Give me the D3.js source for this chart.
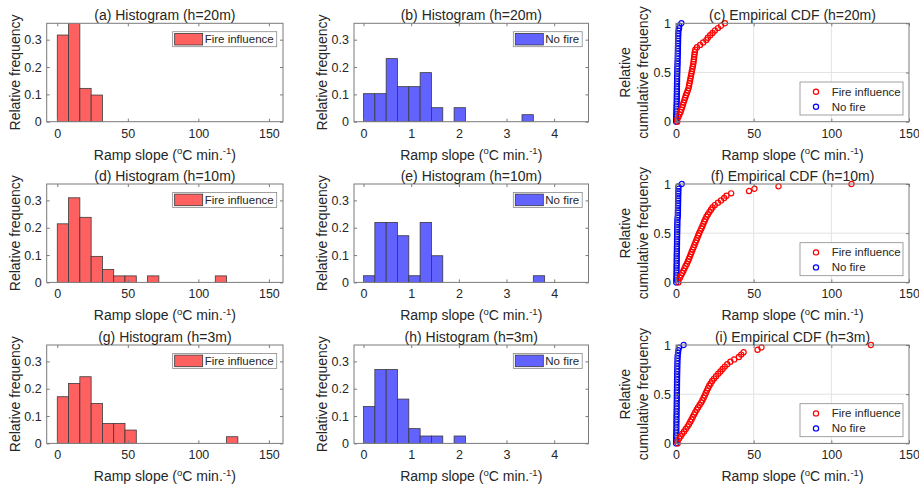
<!DOCTYPE html>
<html>
<head>
<meta charset="utf-8">
<script src="https://cdn.jsdelivr.net/npm/d3@7"></script>
<style>
  body { margin: 0; background: #fff; }
  text { font-family: "Liberation Sans", Arial, Helvetica, sans-serif; fill: #262626; }
</style>
</head>
<body>
<div id="chart"></div>
<script>
var fire20 = [0.8, 1.5, 2.2, 2.9, 3.4, 3.9, 4.4, 4.9, 5.4, 5.9, 6.4, 7.0, 7.6,
  8.1, 8.4, 8.7, 9.0, 9.3, 9.6, 9.9, 10.2, 10.5, 10.8, 11.1, 11.3, 11.5, 11.7, 11.9, 12.1, 12.4, 13.5, 15.5,
  17.5, 19.5, 20.5, 22, 23.5, 25, 27, 29, 31.5];
var fire10 = [1.5, 2.5, 3.3, 4.0, 4.8, 5.5, 6.2, 7.0, 7.7,
  8.3, 8.9, 9.5, 10.1, 10.7, 11.3, 11.9, 12.5, 13.1, 13.7, 14.3, 14.9, 15.6,
  16.3, 17.0, 17.6, 18.2, 18.9, 19.6, 20.5, 21.5, 22.5, 23.5,
  25, 27, 29, 31, 32.5, 35.5, 47, 50.5, 66, 113];
var fire3 = [1.0, 2.0, 3.0, 4.0, 5.2, 6.3, 7.4,
  8.3, 9.2, 10.0, 10.8, 11.6, 12.4, 13.3, 14.2, 15.2,
  16.2, 17.0, 17.8, 18.5, 19.2, 19.9, 20.6, 21.4, 22.3, 23.3,
  24.5, 25.8, 27.2, 28.6, 30, 31.4, 33, 35, 37.5, 40.5, 42, 43.5, 52.5, 55, 125.5];

var noFire20 = [0.05, 0.1, 0.15, 0.2, 0.28, 0.33, 0.39, 0.45,
  0.49, 0.51, 0.54, 0.57, 0.6, 0.63, 0.65, 0.68, 0.7,
  0.74, 0.79, 0.84, 0.88, 0.92, 0.98, 1.03, 1.08, 1.12, 1.16,
  1.2, 1.24, 1.28, 1.31, 1.35, 1.38, 1.41, 1.48, 1.6, 1.95, 2.08, 3.45];
var noFire10 = [0.15, 0.26, 0.29, 0.32, 0.35, 0.38, 0.41, 0.43, 0.45, 0.47,
  0.49, 0.52, 0.55, 0.58, 0.61, 0.64, 0.66, 0.68, 0.7,
  0.73, 0.76, 0.79, 0.83, 0.86, 0.89, 0.93, 1.05,
  1.2, 1.23, 1.26, 1.29, 1.32, 1.35, 1.38, 1.4, 1.42, 1.45, 1.5, 1.55, 1.62, 3.7];
var noFire3 = [0.04, 0.08, 0.12, 0.17, 0.21, 0.25, 0.27, 0.29, 0.31, 0.34, 0.37, 0.4, 0.42, 0.44, 0.46,
  0.49, 0.51, 0.53, 0.56, 0.59, 0.62, 0.64, 0.66, 0.68, 0.7,
  0.74, 0.78, 0.82, 0.86, 0.9, 0.93, 1.0, 1.1, 1.3, 1.5, 2.0, 4.9];

var fireBinWidth = 8, noFireBinWidth = 0.2375;
var fireXTicks = [0, 50, 100, 150], noFireXTicks = [0, 1, 2, 3, 4], cdfXTicks = [0, 50, 100, 150];
var histYTicks = [0, 0.1, 0.2, 0.3], cdfYTicks = [0, 0.5, 1];
var heights = ["20m", "10m", "3m"];
var letters = [["a", "b", "c"], ["d", "e", "f"], ["g", "h", "i"]];

var fireColor = "#ff6060", noFireColor = "#6262ff";

var rows = [
  { fire: fire20, noFire: noFire20 },
  { fire: fire10, noFire: noFire10 },
  { fire: fire3, noFire: noFire3 }
];

var W = 919, H = 489;
var colLeft = [46.7, 354, 676], colWidth = [236.3, 234.5, 233];
var rowTop = [23.3, 184, 345], plotH = 98.4;
var markerR = 2.6;

var svg = d3.select("#chart").append("svg")
  .attr("width", W)
  .attr("height", H);

var defs = svg.append("defs");

function rampLabel(t){
  t.append("tspan").text("Ramp slope (");
  t.append("tspan").attr("font-size", "9.5px").attr("dy", -5.5).text("o");
  t.append("tspan").attr("dy", 5.5).text("C min.");
  t.append("tspan").attr("font-size", "9.5px").attr("dy", -5.5).text("-1");
  t.append("tspan").attr("dy", 5.5).text(")");
}

function drawGrid(g, x, y, xticks, yticks, w){
  g.append("g").selectAll("line")
    .data(xticks.slice(1, -1)).enter().append("line")
    .attr("x1", function(d){ return x(d); }).attr("x2", function(d){ return x(d); })
    .attr("y1", 0).attr("y2", plotH)
    .attr("stroke", "#e3e3e3");
  g.append("g").selectAll("line")
    .data(yticks.slice(1, -1)).enter().append("line")
    .attr("y1", function(d){ return y(d); }).attr("y2", function(d){ return y(d); })
    .attr("x1", 0).attr("x2", w)
    .attr("stroke", "#e3e3e3");
}

function finishAxes(g, x, y, xticks, yticks, w){
  var fmt = function(d){ return String(d); };
  var axes = [
    g.append("g").attr("transform", "translate(0," + plotH + ")")
      .call(d3.axisBottom(x).tickValues(xticks).tickSize(-3).tickPadding(7).tickFormat(fmt)),
    g.append("g")
      .call(d3.axisTop(x).tickValues(xticks).tickSize(-3).tickFormat("")),
    g.append("g")
      .call(d3.axisLeft(y).tickValues(yticks).tickSize(-3).tickPadding(5).tickFormat(fmt)),
    g.append("g").attr("transform", "translate(" + w + ",0)")
      .call(d3.axisRight(y).tickValues(yticks).tickSize(-3).tickFormat(""))
  ];
  axes.forEach(function(a){
    a.select(".domain").remove();
    a.selectAll(".tick line").attr("stroke", "#7a7a7a");
    a.selectAll(".tick text").attr("font-size", "12.5px").attr("fill", "#262626")
      .style("font-family", '"Liberation Sans", Arial, sans-serif');
  });

  g.append("rect")
    .attr("width", w).attr("height", plotH)
    .attr("fill", "none").attr("stroke", "#7a7a7a").attr("stroke-width", 1);
}

function titleAndLabels(g, w, title, ylines, yOff){
  g.append("text")
    .attr("x", w / 2).attr("y", -3.5)
    .attr("text-anchor", "middle").attr("font-size", "14px")
    .text(title);

  g.append("text")
    .attr("x", w / 2).attr("y", plotH + 38)
    .attr("text-anchor", "middle").attr("font-size", "14px")
    .call(rampLabel);

  ylines.forEach(function(line, i){
    g.append("text")
      .attr("transform", "translate(" + yOff[i] + "," + plotH / 2 + ") rotate(-90)")
      .attr("text-anchor", "middle").attr("dy", "0.35em").attr("font-size", "14px")
      .text(line);
  });
}

function histogram(r, c, data, binWidth, domain, xticks, color, name){
  var w = colWidth[c];
  var g = svg.append("g").attr("transform", "translate(" + colLeft[c] + "," + rowTop[r] + ")");

  var x = d3.scaleLinear().domain(domain).range([0, w]);
  var y = d3.scaleLinear().domain([0, 0.36]).range([plotH, 0]);

  var edges = d3.range(1, 40).map(function(k){ return k * binWidth; });
  var bins = d3.bin()
    .domain([0, binWidth * 40])
    .thresholds(edges)(data)
    .filter(function(b){ return b.length > 0; });

  var clipId = "clip-" + r + "-" + c;
  defs.append("clipPath").attr("id", clipId)
    .append("rect").attr("width", w).attr("height", plotH);

  g.append("g").attr("clip-path", "url(#" + clipId + ")")
    .selectAll("rect").data(bins).enter().append("rect")
    .attr("x", function(b){ return x(b.x0); })
    .attr("width", function(b){ return x(b.x1) - x(b.x0); })
    .attr("y", function(b){ return y(b.length / data.length); })
    .attr("height", function(b){ return plotH - y(b.length / data.length); })
    .attr("fill", color)
    .attr("stroke", "#3a3a3a")
    .attr("stroke-width", 0.8);

  finishAxes(g, x, y, xticks, histYTicks, w);
  titleAndLabels(g, w, "(" + letters[r][c] + ") Histogram (h=" + heights[r] + ")",
    ["Relative frequency"], [-32]);

  // legend, top right
  var leg = g.append("g");
  var txt = leg.append("text").attr("font-size", "11.5px").text(name);
  var tl = txt.node().getComputedTextLength();
  var lw = 2 + 28 + 2 + tl + 3, lh = 15;
  var lx = w - 6.3 - lw, ly = 8.4;
  leg.insert("rect", "text")
    .attr("x", lx).attr("y", ly).attr("width", lw).attr("height", lh)
    .attr("fill", "#fff").attr("stroke", "#8a8a8a").attr("stroke-width", 0.8);
  leg.insert("rect", "text")
    .attr("x", lx + 2).attr("y", ly + 1.7).attr("width", 28).attr("height", 11.6)
    .attr("fill", color).attr("stroke", "#3a3a3a").attr("stroke-width", 0.8);
  txt.attr("x", lx + 32).attr("y", ly + lh / 2).attr("dy", "0.35em");
}

function ecdfPoints(data){
  var s = data.slice().sort(d3.ascending), n = s.length;
  var pts = [[s[0], 0]];
  s.forEach(function(v, i){ pts.push([v, (i + 1) / n]); });
  return pts;
}

function cdfPanel(r){
  var c = 2, w = colWidth[c];
  var g = svg.append("g").attr("transform", "translate(" + colLeft[c] + "," + rowTop[r] + ")");
  var x = d3.scaleLinear().domain([0, 150]).range([0, w]);
  var y = d3.scaleLinear().domain([0, 1]).range([plotH, 0]);

  drawGrid(g, x, y, cdfXTicks, cdfYTicks, w);

  var series = [
    { pts: ecdfPoints(rows[r].noFire), color: "#0000ff" },
    { pts: ecdfPoints(rows[r].fire), color: "#ff0000" }
  ];
  series.forEach(function(s){
    g.append("g").selectAll("circle").data(s.pts).enter().append("circle")
      .attr("cx", function(d){ return x(d[0]); })
      .attr("cy", function(d){ return y(d[1]); })
      .attr("r", markerR)
      .attr("fill", "none")
      .attr("stroke", s.color)
      .attr("stroke-width", 1.2);
  });

  finishAxes(g, x, y, cdfXTicks, cdfYTicks, w);
  titleAndLabels(g, w, "(" + letters[r][c] + ") Empirical CDF (h=" + heights[r] + ")",
    ["Relative", "cumulative frequency"], [-51, -33]);

  // legend, bottom right
  var lw = 103, lh = 33;
  var lx = w - 6 - lw, ly = plotH - 6.7 - lh;
  var leg = g.append("g").attr("transform", "translate(" + lx + "," + ly + ")");
  leg.append("rect").attr("width", lw).attr("height", lh)
    .attr("fill", "#fff").attr("stroke", "#8a8a8a").attr("stroke-width", 0.8);
  [["Fire influence", "#ff0000"], ["No fire", "#0000ff"]].forEach(function(e, i){
    var yy = 9.7 + i * 15;
    leg.append("circle").attr("cx", 16).attr("cy", yy).attr("r", markerR)
      .attr("fill", "none").attr("stroke", e[1]).attr("stroke-width", 1.2);
    leg.append("text").attr("x", 31.7).attr("y", yy).attr("dy", "0.35em")
      .attr("font-size", "11.5px").text(e[0]);
  });
}

rows.forEach(function(row, r){
  histogram(r, 0, row.fire, fireBinWidth, [-7.5, 160], fireXTicks, fireColor, "Fire influence");
  histogram(r, 1, row.noFire, noFireBinWidth, [-0.2, 4.72], noFireXTicks, noFireColor, "No fire");
  cdfPanel(r);
});
</script>
</body>
</html>
